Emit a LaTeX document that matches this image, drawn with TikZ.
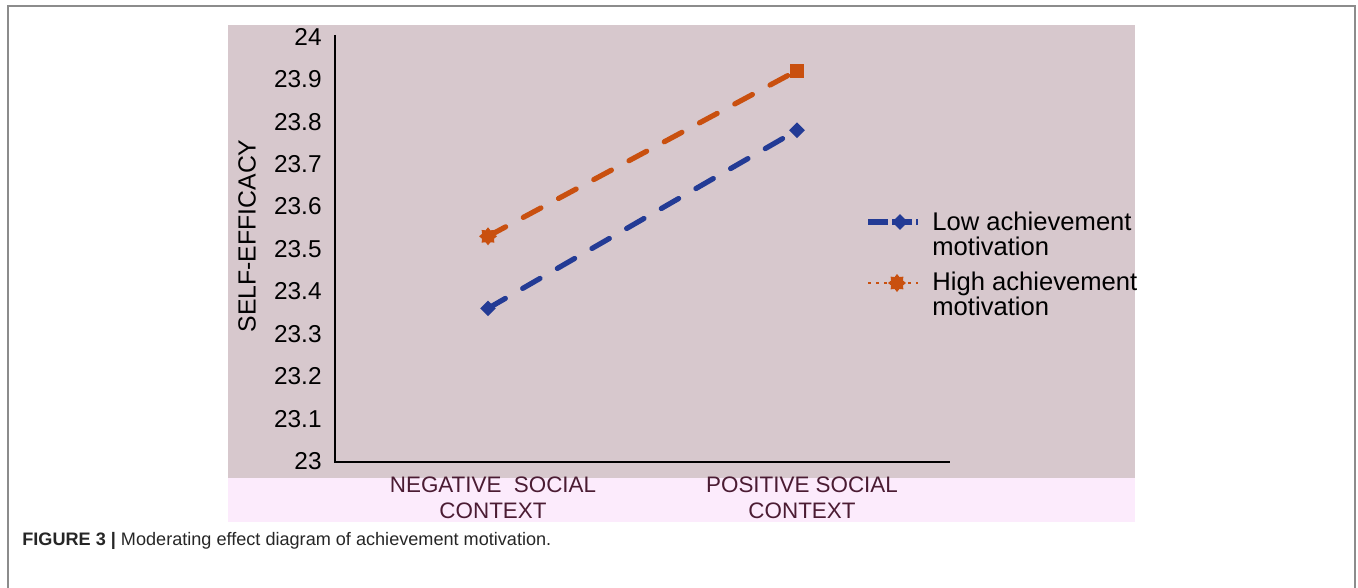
\documentclass[tikz,border=0pt]{standalone}
\usepackage{fontspec}
\setmainfont{Liberation Sans}
\usetikzlibrary{shapes.geometric, positioning}
\definecolor{plotbg}{HTML}{D7C8CD}
\definecolor{stripbg}{HTML}{FCEBFC}
\definecolor{lowblue}{HTML}{233B95}
\definecolor{highorange}{HTML}{C9500F}
\definecolor{catcolor}{HTML}{4B1C33}
\definecolor{framegray}{HTML}{8C8C8C}
\tikzset{
	ticklab/.style = {anchor = east, inner sep = 0pt, font = \fontsize{12.2}{14}\selectfont},
	catlab/.style = {align = center, inner sep = 0pt, text = catcolor, font = \fontsize{11.2}{13}\selectfont},
	legtext/.style = {anchor = west, align = left, inner sep = 0pt, font = \fontsize{12.8}{12.5}\selectfont},
	lowmark/.style = {diamond, fill = lowblue, minimum size = 8pt, inner sep = 0pt},
	highmark/.style = {rectangle, fill = highorange, minimum size = 7pt, inner sep = 0pt},
	highstar/.style = {star, star points = 8, star point ratio = 1.4, fill = highorange, minimum size = 9pt, inner sep = 0pt},
	lowline/.style = {draw = lowblue, line width = 2.6pt, dash pattern = on 10pt off 10pt, line cap = round},
	highline/.style = {draw = highorange, line width = 2.6pt, dash pattern = on 10pt off 10pt, line cap = round},
	axisline/.style = {draw = black, line width = 1.4pt}
}

\begin{document}
\begin{tikzpicture}[x = 0.5pt, y = -0.5pt]
	\useasboundingbox (0,0) rectangle (1358,588);

	%% frame and backgrounds
	\draw [framegray, line width = 1pt] (8,588) -- (8,6) -- (1355,6) -- (1355,588);
	\fill [plotbg] (228,25) rectangle (1135,478);
	\fill [stripbg] (228,478) rectangle (1135,522);

	%% axes
	\coordinate (ytop) at (335,35);
	\coordinate (origin) at (335,462);
	\coordinate (xend) at (950,462);
	\draw [axisline] (ytop) -- (origin) -- (xend);

	% tick labels
	\node (t230) [ticklab] at (322,461) {23};
	\node (t231) [ticklab] at (322,418.6) {23.1};
	\node (t232) [ticklab] at (322,376.2) {23.2};
	\node (t233) [ticklab] at (322,333.8) {23.3};
	\node (t234) [ticklab] at (322,291.4) {23.4};
	\node (t235) [ticklab] at (322,249) {23.5};
	\node (t236) [ticklab] at (322,206.6) {23.6};
	\node (t237) [ticklab] at (322,164.2) {23.7};
	\node (t238) [ticklab] at (322,121.8) {23.8};
	\node (t239) [ticklab] at (322,79.4) {23.9};
	\node (t240) [ticklab] at (322,37) {24};

	% axis titles
	\node (ytitle) [rotate = 90, inner sep = 0pt, font = \fontsize{12.4}{14}\selectfont] at (247,236) {SELF-EFFICACY};
	\node (negctx) [catlab] at (493,498) {NEGATIVE~~SOCIAL\\CONTEXT};
	\node (posctx) [catlab] at (802,498) {POSITIVE SOCIAL\\CONTEXT};

	%% data
	\node (lowneg) [lowmark] at (488,308.4) {};
	\node (lowpos) [lowmark] at (797,130.3) {};
	\node (highneg) [highstar] at (488,236.3) {};
	\node (highpos) [highmark] at (797,70.6) {};
	\draw [lowline] (lowneg.center) -- (lowpos.center);
	\draw [highline] (highneg.center) -- (highpos.center);

	%% legend
	\coordinate (lowlegA) at (868,222);
	\coordinate (lowlegB) at (918,222);
	\draw [draw = lowblue, line width = 2.6pt, dash pattern = on 10pt off 2pt] (lowlegA) -- (lowlegB);
	\node (lowlegmark) [lowmark] at (900,222) {};
	\node (lowlegtext) [legtext] at (932,234) {Low achievement\\motivation};

	\coordinate (highlegA) at (868,283);
	\coordinate (highlegB) at (918,283);
	\draw [draw = highorange, line width = 1.4pt, dash pattern = on 1.5pt off 2.5pt] (highlegA) -- (highlegB);
	\node (highlegmark) [highstar] at (897,283) {};
	\node (highlegtext) [legtext] at (932,294) {High achievement\\motivation};

	%% caption
	\node (caption) [anchor = west, inner sep = 0pt, text = black!85, font = \fontsize{9.05}{11}\selectfont] at (22,541) {\textbf{FIGURE 3 |} Moderating effect diagram of achievement motivation.};
\end{tikzpicture}
\end{document}
